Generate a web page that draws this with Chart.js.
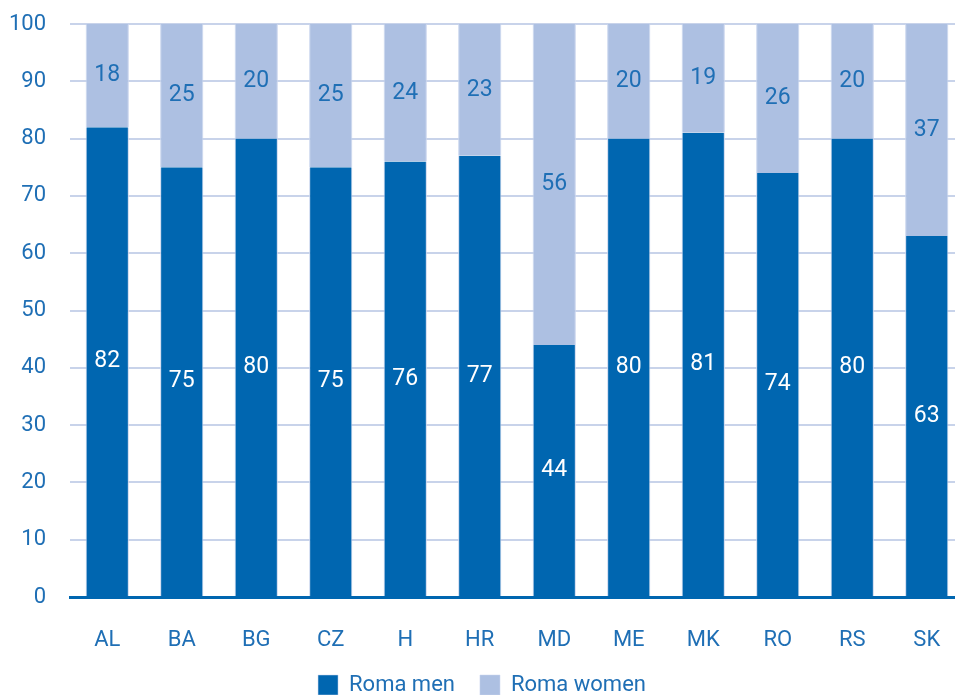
<!DOCTYPE html>
<html>
<head>
<meta charset="utf-8">
<script src="https://cdn.jsdelivr.net/npm/chart.js@4"></script>
<style>
html,body{margin:0;padding:0;background:#fff;overflow:hidden;}
#wrap{position:absolute;left:0;top:0;width:964px;height:706px;}
</style>
</head>
<body>
<div id="wrap"><canvas id="c"></canvas></div>
<script>
const categories = ['AL','BA','BG','CZ','H','HR','MD','ME','MK','RO','RS','SK'];
const romaMen = [82,75,80,75,76,77,44,80,81,74,80,63];
const romaWomen = [18,25,20,25,24,23,56,20,19,26,20,37];
const seriesNames = ['Roma men','Roma women'];

const DARK = '#0066b0';
const LIGHT = '#adc0e2';
const TEXT = '#1f6fb5';
const GRID = '#c8d3ea';
const FONT = 'Roboto, "Open Sans", sans-serif';

const labelPlugin = {
  id: 'barLabels',
  afterDatasetsDraw(chart) {
    const ctx = chart.ctx;
    ctx.save();
    ctx.font = '23px ' + FONT;
    ctx.textAlign = 'center';
    ctx.textBaseline = 'middle';
    chart.data.datasets.forEach((ds, di) => {
      const meta = chart.getDatasetMeta(di);
      meta.data.forEach((el, i) => {
        ctx.fillStyle = di === 0 ? '#ffffff' : TEXT;
        ctx.fillText(String(ds.data[i]), el.x, (el.y + el.base) / 2);
      });
    });
    ctx.restore();
  }
};

new Chart(document.getElementById('c'), {
  type: 'bar',
  data: {
    labels: categories,
    datasets: [
      {label: seriesNames[0], data: romaMen, backgroundColor: DARK, borderColor: '#c9d5ee', borderWidth: {left:1,right:1,top:0,bottom:0}},
      {label: seriesNames[1], data: romaWomen, backgroundColor: LIGHT, borderColor: '#c9d5ee', borderWidth: {left:1,right:1,top:0,bottom:0}}
    ]
  },
  options: {
    responsive: true,
    maintainAspectRatio: false,
    animation: false,
    devicePixelRatio: 1,
    layout: {padding: {top: 0, right: 0, left: 0, bottom: 0}},
    datasets: {bar: {barPercentage: 0.58, categoryPercentage: 1.0}},
    plugins: {
      legend: {
        position: 'bottom',
        labels: {
          font: {size: 22, family: FONT},
          color: TEXT,
          boxWidth: 20,
          boxHeight: 20,
          padding: 25,
          useBorderRadius: false
        }
      },
      tooltip: {enabled: false}
    },
    scales: {
      x: {
        stacked: true,
        afterFit(s) { s.height = 52; },
        grid: {display: false},
        border: {display: true, color: DARK, width: 3},
        ticks: {font: {size: 22, family: FONT}, color: TEXT, padding: 22}
      },
      y: {
        stacked: true,
        min: 0, max: 100,
        afterFit(s) { s.width = 70; s.paddingTop = 24; },
        grid: {color: GRID, lineWidth: 2, drawTicks: false},
        border: {display: false},
        ticks: {stepSize: 10, font: {size: 22, family: FONT}, color: TEXT, padding: 24}
      }
    }
  },
  plugins: [labelPlugin]
});
</script>
</body>
</html>
